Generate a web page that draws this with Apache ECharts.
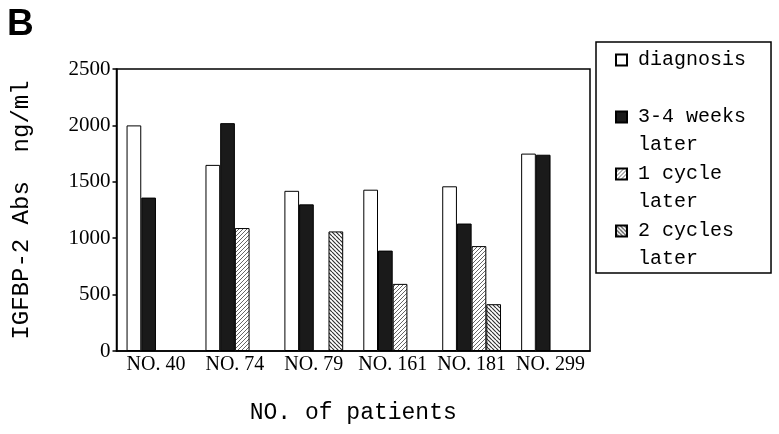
<!DOCTYPE html>
<html>
<head>
    <meta charset="UTF-8">
    <title></title>
    <script src="https://cdn.jsdelivr.net/npm/echarts@6/dist/echarts.min.js"></script>
    <style>
        * { padding: 0; margin: 0; }
        body { background: #fff; }
        #container { width: 779px; height: 434px; }
    </style>
</head>
<body>
    <div id="container"></div>
<script>
    var categories = ['NO. 40', 'NO. 74', 'NO. 79', 'NO. 161', 'NO. 181', 'NO. 299'];
    var seriesNames = ['diagnosis', '3-4 weeks later', '1 cycle later', '2 cycles later'];
    var diagnosis = [2000, 1650, 1420, 1430, 1460, 1750];
    var weeksLater = [1360, 2020, 1300, 890, 1130, 1740];
    var cycle1Later = [null, 1090, null, 595, 930, null];
    var cycle2Later = [null, null, 1060, null, 415, null];
    var yTicks = [0, 500, 1000, 1500, 2000, 2500];

    // hatch fill, dir 1 = "/", -1 = "\"
    function hatch(dir, color, lw) {
        var s = 4;
        var c = document.createElement('canvas');
        c.width = s; c.height = s;
        var ctx = c.getContext('2d');
        ctx.fillStyle = '#fff';
        ctx.fillRect(0, 0, s, s);
        ctx.strokeStyle = color;
        ctx.lineWidth = lw;
        ctx.beginPath();
        for (var k = -1; k <= 1; k++) {
            if (dir > 0) {
                ctx.moveTo(k * s, s); ctx.lineTo(k * s + s, 0);
            } else {
                ctx.moveTo(k * s, 0); ctx.lineTo(k * s + s, s);
            }
        }
        ctx.stroke();
        return { image: c, repeat: 'repeat' };
    }

    var chart = echarts.init(document.getElementById('container'));

    function bar(name, data, color) {
        return {
            name: name,
            type: 'bar',
            barWidth: 14.7,
            barGap: '0%',
            data: data,
            itemStyle: { color: color, borderColor: '#000', borderWidth: 1 }
        };
    }

    var option = {
        animation: false,
        graphic: [{
            type: 'text',
            left: 7,
            top: 6,
            style: { text: 'B', font: 'bold 37px "Liberation Sans"', fill: '#000' }
        }],
        legend: {
            orient: 'vertical',
            left: 596,
            top: 42,
            padding: [-24, 25, 0, 19],
            itemGap: -27,
            itemWidth: 11,
            itemHeight: 11,
            icon: 'rect',
            borderColor: '#000',
            borderWidth: 1.5,
            textStyle: {
                fontFamily: 'Liberation Mono',
                fontSize: 20,
                color: '#000',
                lineHeight: 28,
                rich: {
                    t: { fontFamily: 'Liberation Mono', fontSize: 20, color: '#000', lineHeight: 28, padding: [0, 0, 0, 6] }
                }
            },
            // three lines, the middle one sits beside the icon
            formatter: function (name) {
                if (name === 'diagnosis') return '{t| }\n{t|diagnosis}\n{t| }';
                var i = name.lastIndexOf(' ');
                return '{t| }\n{t|' + name.slice(0, i) + '}\n{t|' + name.slice(i + 1) + '}';
            },
            data: seriesNames
        },
        grid: {
            left: 116.5,
            right: 189,
            top: 69,
            bottom: 83,
            show: true,
            borderColor: '#000',
            borderWidth: 1.5
        },
        xAxis: {
            type: 'category',
            data: categories,
            name: 'NO. of patients',
            nameLocation: 'middle',
            nameGap: 50,
            nameTextStyle: { fontFamily: 'Liberation Mono', fontSize: 23, color: '#000' },
            axisLine: { lineStyle: { color: '#000', width: 1.5 } },
            axisTick: { inside: true, length: 6, lineStyle: { color: '#000', width: 1.5 } },
            axisLabel: { interval: 0, fontFamily: 'Liberation Serif', fontSize: 20, color: '#000', margin: 4 }
        },
        yAxis: {
            type: 'value',
            min: yTicks[0],
            max: yTicks[yTicks.length - 1],
            interval: 500,
            name: 'IGFBP-2 Abs  ng/ml',
            nameLocation: 'middle',
            nameGap: 83,
            nameTextStyle: { fontFamily: 'Liberation Mono', fontSize: 24, color: '#000' },
            splitLine: { show: false },
            axisLine: { show: true, lineStyle: { color: '#000', width: 1.5 } },
            axisTick: { show: true, length: 4, lineStyle: { color: '#000', width: 1.5 } },
            axisLabel: {
                fontFamily: 'Liberation Serif', fontSize: 21, color: '#000', margin: 6,
                formatter: function (v) { return String(v); }
            }
        },
        series: [
            bar(seriesNames[0], diagnosis, '#fff'),
            bar(seriesNames[1], weeksLater, '#1a1a1a'),
            bar(seriesNames[2], cycle1Later, hatch(1, '#666', 1)),
            bar(seriesNames[3], cycle2Later, hatch(-1, '#333', 1.2))
        ]
    };

    chart.setOption(option);
</script>
</body>
</html>
